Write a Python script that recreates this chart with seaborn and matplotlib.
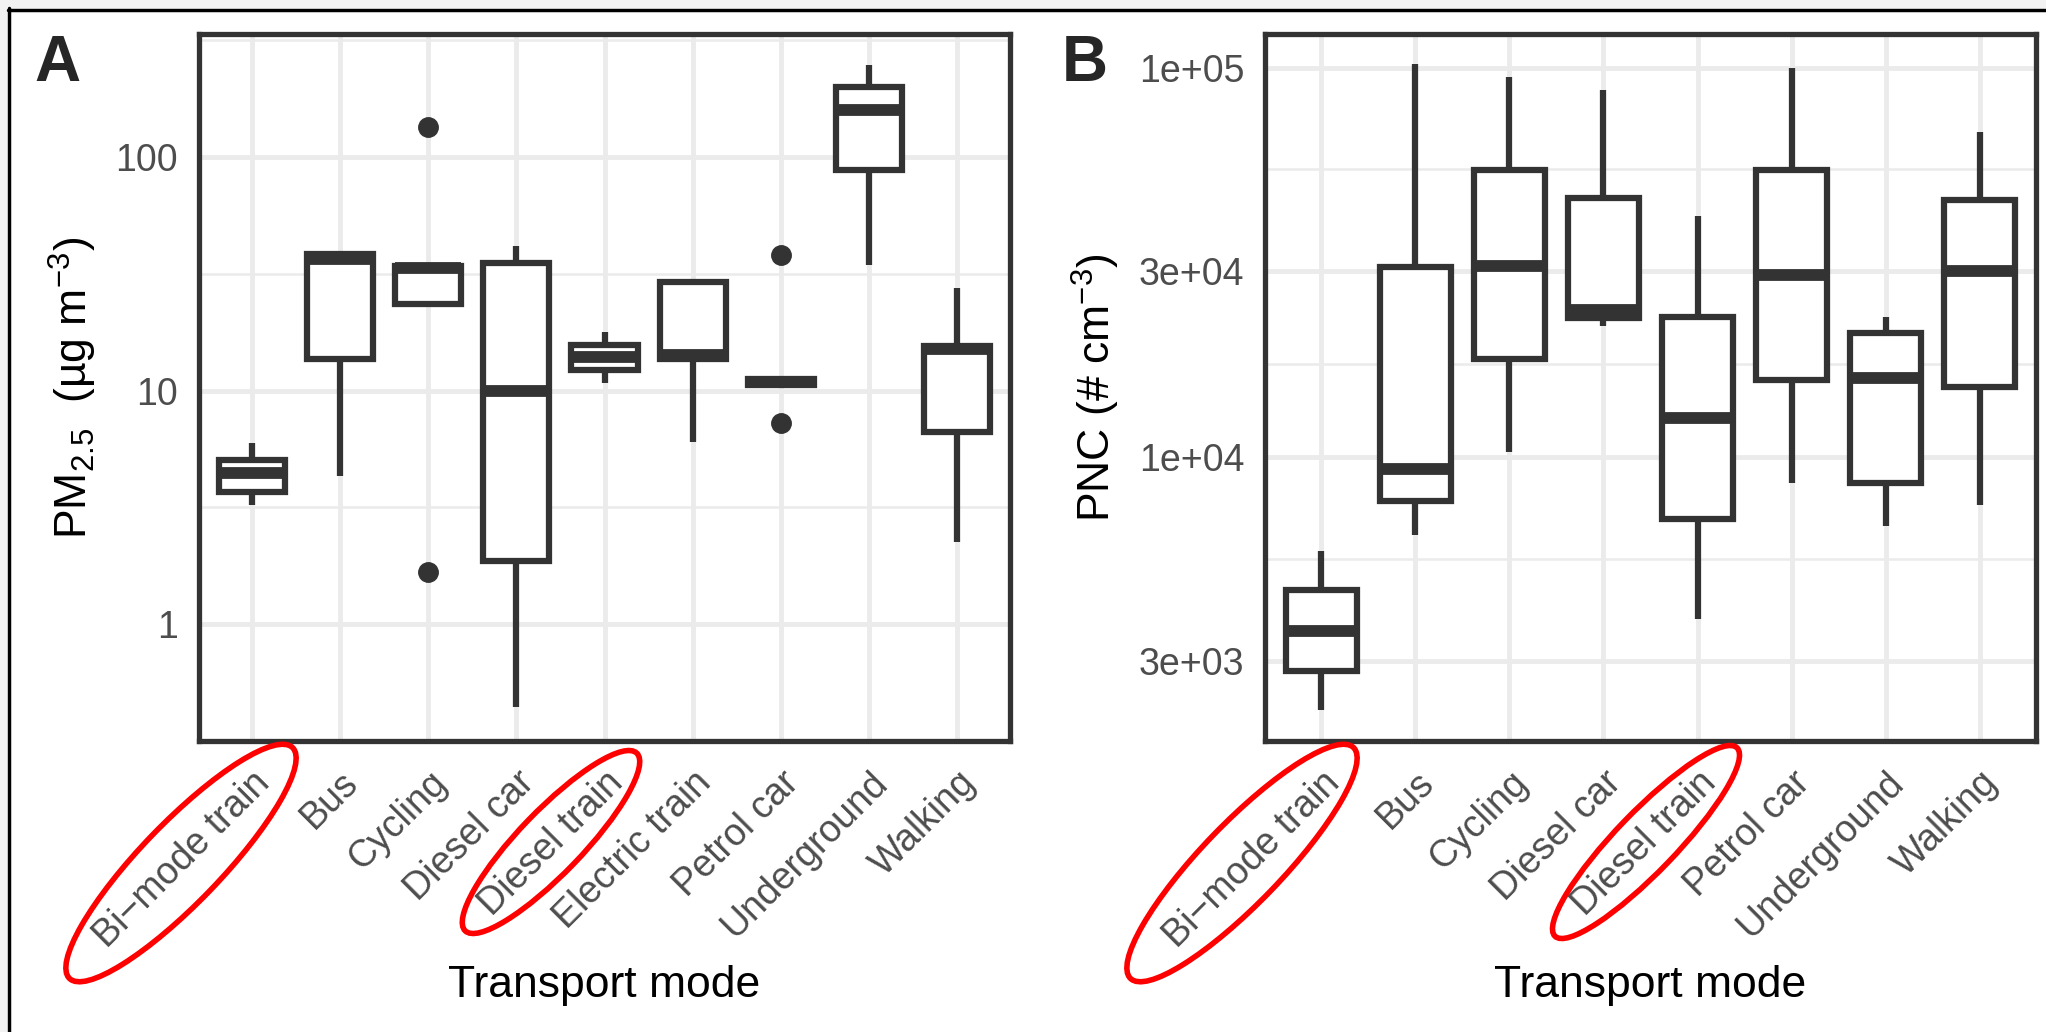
import numpy as np
import matplotlib
matplotlib.use("Agg")
import matplotlib.pyplot as plt
import seaborn as sns
from matplotlib.patches import Ellipse, Rectangle
from matplotlib.lines import Line2D

# =========================================================
# DATA (five-number summaries + outliers)
# =========================================================

modes_a = ["Bi\u2212mode train", "Bus", "Cycling", "Diesel car", "Diesel train",
           "Electric train", "Petrol car", "Underground", "Walking"]
pm_whislo = [3.25, 4.33, 23.4, 0.44, 10.8, 6.0, 10.6, 34.6, 2.24]
pm_q1 = [3.70, 13.6, 23.4, 1.87, 12.2, 13.7, 10.6, 88.0, 6.64]
pm_med = [4.43, 36.5, 33.5, 10.0, 13.9, 14.2, 10.9, 159.0, 15.1]
pm_q3 = [5.07, 38.3, 34.3, 35.1, 15.7, 29.2, 11.2, 199.0, 15.6]
pm_whishi = [5.96, 38.3, 34.3, 41.5, 17.8, 29.2, 11.2, 249.0, 27.4]
pm_fliers = [[], [], [135.0, 1.67], [], [], [], [38.1, 7.3], [], []]

modes_b = ["Bi\u2212mode train", "Bus", "Cycling", "Diesel car", "Diesel train",
           "Petrol car", "Underground", "Walking"]
pnc_whislo = [2240, 6325, 10300, 21700, 3830, 8560, 6650, 7530]
pnc_q1 = [2820, 7730, 17900, 22700, 6950, 15800, 8600, 15100]
pnc_med = [3570, 9310, 31000, 23800, 12600, 29300, 15960, 30000]
pnc_q3 = [4550, 30700, 54500, 46400, 22900, 54500, 20800, 45800]
pnc_whishi = [5730, 102000, 94400, 87700, 41500, 100000, 22950, 68200]
pnc_fliers = [[], [], [], [], [], [], [], []]

pm_ticks = [1, 10, 100]
pm_ticklabels = ["1", "10", "100"]
pnc_ticks = [3e3, 1e4, 3e4, 1e5]
pnc_ticklabels = ["3e+03", "1e+04", "3e+04", "1e+05"]

# =========================================================
# STYLE
# =========================================================

sns.set_theme(style="whitegrid")
plt.rcParams["font.family"] = ["Liberation Sans", "DejaVu Sans"]
plt.rcParams["mathtext.fontset"] = "custom"
plt.rcParams["mathtext.rm"] = "Liberation Sans"
plt.rcParams["mathtext.it"] = "Liberation Sans:italic"
plt.rcParams["mathtext.bf"] = "Liberation Sans:bold"

DARK = "#333333"
TICKTXT = "#4d4d4d"
GRID = "#ebebeb"

W, H = 2046, 1032
fig = plt.figure(figsize=(W / 100, H / 100), dpi=100, facecolor="white")


def make_stats(lo, q1, med, q3, hi, fl):
    return [
        dict(whislo=a, q1=b, med=c, q3=d, whishi=e, fliers=f)
        for a, b, c, d, e, f in zip(lo, q1, med, q3, hi, fl)
    ]


def draw_panel(rect, names, stats, ylim, ticks, ticklabels, minor, ylabel):
    ax = fig.add_axes(rect)
    ax.set_facecolor("white")
    ax.set_yscale("log")

    ax.bxp(
        stats,
        positions=np.arange(1, len(names) + 1),
        widths=0.75,
        patch_artist=True,
        showcaps=False,
        boxprops=dict(facecolor="white", edgecolor=DARK, linewidth=4.5),
        whiskerprops=dict(color=DARK, linewidth=4.5, solid_capstyle="butt"),
        medianprops=dict(color=DARK, linewidth=8.5, solid_capstyle="butt"),
        flierprops=dict(marker="o", markerfacecolor=DARK, markeredgecolor=DARK,
                        markersize=14, linestyle="none"),
        zorder=3,
    )

    ax.set_xlim(0.4, len(names) + 0.6)
    ax.set_ylim(*ylim)

    ax.set_xticks(np.arange(1, len(names) + 1))
    ax.set_xticklabels(names, rotation=45, ha="right", va="top",
                       rotation_mode="anchor")
    ax.set_yticks(ticks)
    ax.set_yticklabels(ticklabels)
    ax.set_yticks(minor, minor=True)
    ax.yaxis.set_minor_formatter(plt.NullFormatter())

    ax.grid(True, which="major", color=GRID, linewidth=3.5)
    ax.grid(True, which="minor", axis="y", color=GRID, linewidth=1.8)
    ax.set_axisbelow(True)

    ax.tick_params(axis="both", which="major", length=9, width=3.5,
                   color=DARK, labelsize=27, labelcolor=TICKTXT, pad=6)
    ax.tick_params(axis="y", which="minor", length=0)
    ax.tick_params(axis="x", pad=8)

    for s in ax.spines.values():
        s.set_visible(True)
        s.set_color(DARK)
        s.set_linewidth(3.8)

    ax.set_xlabel("Transport mode", fontsize=32, color="black", labelpad=8)
    ax.set_ylabel(ylabel, fontsize=32, color="black", labelpad=12)
    return ax


stats_a = make_stats(pm_whislo, pm_q1, pm_med, pm_q3, pm_whishi, pm_fliers)
stats_b = make_stats(pnc_whislo, pnc_q1, pnc_med, pnc_q3, pnc_whishi, pnc_fliers)

ax_a = draw_panel(
    [199 / W, 1 - 741 / H, (1010 - 199) / W, (741 - 34) / H],
    modes_a, stats_a, (10 ** -0.486, 10 ** 2.527),
    pm_ticks, pm_ticklabels, [10 ** -0.5, 10 ** 0.5, 10 ** 1.5, 10 ** 2.5],
    "PM$_{2.5}$  (\u00b5g m$^{-3}$)",
)
ax_b = draw_panel(
    [1265 / W, 1 - 741 / H, (2036 - 1265) / W, (741 - 34) / H],
    modes_b, stats_b, (1867, 1.22e5),
    pnc_ticks, pnc_ticklabels, [5480, 17300, 54800],
    "PNC (# cm$^{-3}$)",
)

# panel letters
fig.text(34 / W, 1 - 81 / H, "A", fontsize=46, fontweight="bold",
         ha="left", va="baseline")
fig.text(1062 / W, 1 - 81 / H, "B", fontsize=46, fontweight="bold",
         ha="left", va="baseline")

# red highlight ellipses around the train labels (figure pixel coords)
for cx, cy, w, h in [(181, 863, 321, 80), (551, 842, 247, 63),
                     (1242, 863, 321, 80), (1646, 842, 262, 60)]:
    fig.patches.append(Ellipse((cx, H - cy), w, h, angle=46, fill=False,
                               edgecolor="#ff0000", linewidth=4,
                               transform=None, figure=fig))

# screenshot frame: grey margin with black edge on top and left
fig.patches.append(Rectangle((0, 1 - 8 / H), 1, 8 / H, transform=fig.transFigure,
                             facecolor="#f2f2f2", edgecolor="none", zorder=0))
fig.patches.append(Rectangle((0, 0), 7 / W, 1, transform=fig.transFigure,
                             facecolor="#f2f2f2", edgecolor="none", zorder=0))
fig.lines.append(Line2D([8 / W, 1], [1 - 9.5 / H, 1 - 9.5 / H],
                        transform=fig.transFigure, color="black", linewidth=2.5))
fig.lines.append(Line2D([8.5 / W, 8.5 / W], [0, 1 - 8 / H],
                        transform=fig.transFigure, color="black", linewidth=2.5))

fig.savefig("out.png", dpi=100, facecolor="white")
plt.close(fig)
